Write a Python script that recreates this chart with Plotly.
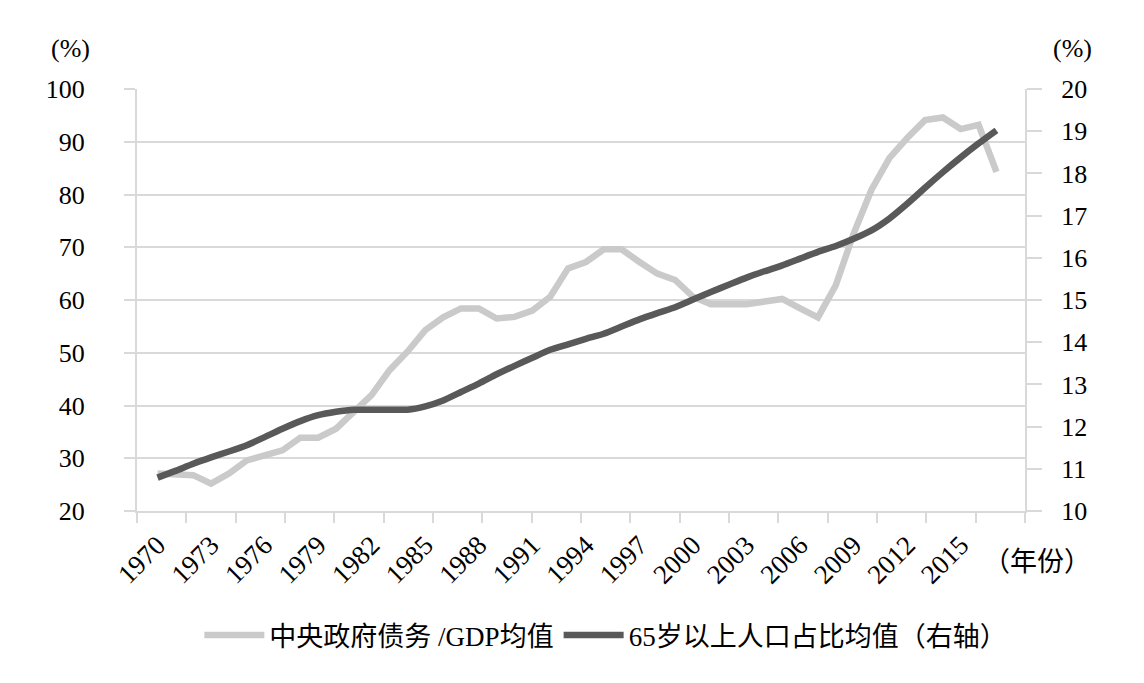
import numpy as np
import plotly.graph_objects as go

# ── data ──
years = list(range(1970, 2018))

debt_gdp = [
    27.1, 26.9, 26.8, 25.2, 27.1, 29.6, 30.6, 31.5, 33.9, 33.9,
    35.6, 38.8, 42.0, 46.7, 50.2, 54.3, 56.7, 58.4, 58.4, 56.5,
    56.8, 58.0, 60.6, 66.0, 67.2, 69.6, 69.6, 67.2, 65.0, 63.8,
    60.6, 59.2, 59.2, 59.2, 59.7, 60.2, 58.4, 56.7, 62.8, 72.6,
    80.9, 86.9, 90.7, 94.1, 94.6, 92.4, 93.2, 84.3,
]

aged_share = [
    10.79, 10.95, 11.12, 11.27, 11.41, 11.56, 11.75, 11.95, 12.13, 12.27,
    12.35, 12.40, 12.40, 12.40, 12.40, 12.48, 12.62, 12.82, 13.02, 13.24,
    13.44, 13.63, 13.82, 13.95, 14.08, 14.20, 14.37, 14.54, 14.69, 14.83,
    15.01, 15.19, 15.36, 15.53, 15.68, 15.82, 15.98, 16.14, 16.28, 16.45,
    16.65, 16.93, 17.28, 17.66, 18.03, 18.38, 18.71, 19.02,
]

label_years = list(range(1970, 2016, 3))

# ── styling ──
GRID = "#d9d9d9"
LIGHT = "#cacaca"
DARK = "#595959"
FONT = "Liberation Serif, Noto Sans CJK SC, serif"
X_RANGE = [1968.85, 2018.6]

fig = go.Figure()

fig.add_trace(go.Scatter(
    x=years, y=debt_gdp,
    mode="lines",
    name="中央政府债务 /GDP均值",
    line=dict(color=LIGHT, width=6.5),
))

fig.add_trace(go.Scatter(
    x=years, y=aged_share,
    mode="lines",
    name="65岁以上人口占比均值（右轴）",
    yaxis="y2",
    line=dict(color=DARK, width=6.5, shape="spline", smoothing=0.5),
))

# dummy trace so the label axis gets drawn
fig.add_trace(go.Scatter(
    x=[None], y=[None], xaxis="x2", showlegend=False, hoverinfo="skip",
))

fig.update_layout(
    width=1136, height=675,   # page body adds an 8px margin
    paper_bgcolor="white",
    plot_bgcolor="white",
    font=dict(family=FONT, size=26, color="black"),
    margin=dict(l=129, r=119, t=81, b=172),
    showlegend=True,
    legend=dict(
        orientation="h",
        x=0.528, xanchor="center",
        y=-0.295, yanchor="middle",
        font=dict(size=27),
        itemwidth=60,
        tracegroupgap=0,
    ),
    xaxis=dict(
        range=X_RANGE,
        tickmode="array",
        tickvals=list(np.linspace(X_RANGE[0], X_RANGE[1], 19)),
        showticklabels=False,
        ticks="outside", ticklen=10, tickwidth=2, tickcolor=GRID,
        showline=True, linecolor=GRID, linewidth=2,
        showgrid=False, zeroline=False,
    ),
    xaxis2=dict(
        range=X_RANGE,
        overlaying="x",
        anchor="y",
        side="bottom",
        tickmode="array",
        tickvals=label_years,
        ticktext=[str(y) for y in label_years],
        tickangle=-45,
        ticks="",
        ticklabelstandoff=12,
        showline=False, showgrid=False, zeroline=False,
        tickfont=dict(size=27),
    ),
    yaxis=dict(
        range=[20, 100], dtick=10,
        showgrid=True, gridcolor=GRID, gridwidth=2,
        ticks="outside", ticklen=11, tickwidth=2, tickcolor=GRID,
        showline=True, linecolor=GRID, linewidth=2,
        zeroline=False,
        ticklabelstandoff=34,
    ),
    yaxis2=dict(
        range=[10, 20], dtick=1,
        overlaying="y", side="right",
        showgrid=False,
        ticks="outside", ticklen=15, tickwidth=2, tickcolor=GRID,
        showline=True, linecolor=GRID, linewidth=2,
        zeroline=False,
        ticklabelstandoff=14,
    ),
    annotations=[
        dict(text="(%)", xref="paper", yref="paper", x=-0.075, y=1.097,
             xanchor="center", yanchor="middle",
             showarrow=False, font=dict(size=26)),
        dict(text="(%)", xref="paper", yref="paper", x=1.054, y=1.097,
             xanchor="center", yanchor="middle",
             showarrow=False, font=dict(size=26)),
        dict(text="（年份）", xref="paper", yref="paper", x=1.014, y=-0.122,
             xanchor="center", yanchor="middle",
             showarrow=False, font=dict(size=27)),
    ],
)

fig.write_html("out.html")
